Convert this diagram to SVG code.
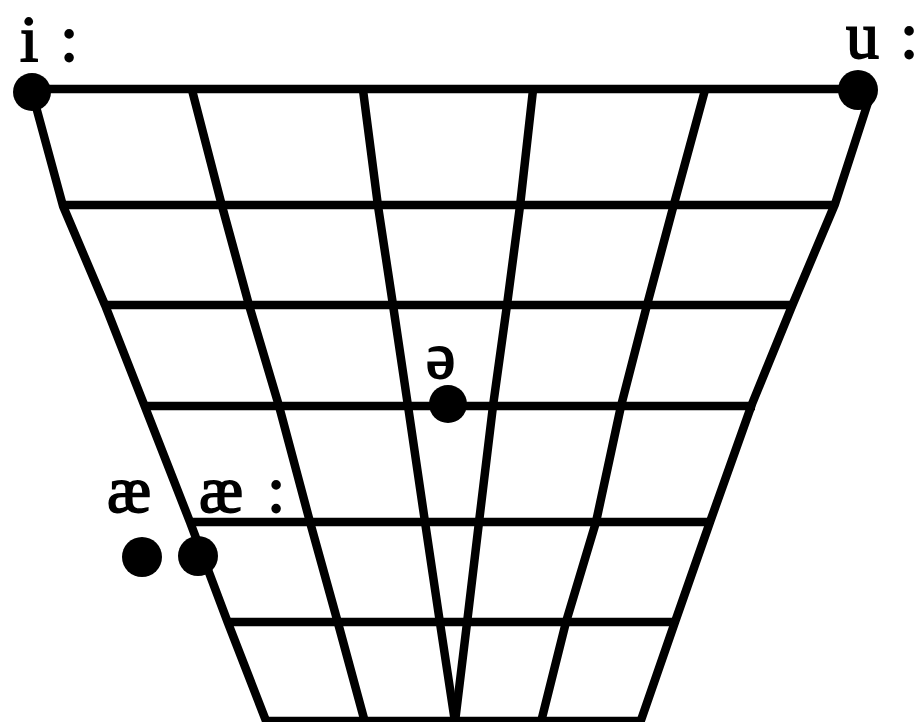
<svg xmlns="http://www.w3.org/2000/svg" width="917" height="722" viewBox="0 0 917 722">
<style>
.g{stroke:#000;stroke-width:8.5;fill:none;stroke-linejoin:round}
.d{fill:#000}
.t{font-family:"Liberation Serif","Times New Roman",serif;font-size:66px;fill:#000;stroke:#000;stroke-width:1.8}
</style>
<rect width="917" height="722" fill="#fff"/>
<g id="grid" class="g">
<polyline points="32,92 63,206 105,305 145,407 190,522 228,623 268,726"/>
<polyline points="192,90 222,206 249,305 279,406 310,522 338,623 366,726"/>
<polyline points="363,90 378,206 393,305 408,406 425,522 440,623 455,722"/>
<polyline points="533,90 520,206 507,305 493,406 479,522 467,623 455,722"/>
<polyline points="705,90 674,204 647,305 621,406 596,522 566,622 540,726"/>
<polyline points="872,90 835,204 792,306 752,404 710,522 675,622 639,726"/>
<line x1="32" y1="89" x2="858" y2="89"/>
<line x1="63" y1="205" x2="837" y2="205"/>
<line x1="105" y1="305" x2="795" y2="305"/>
<line x1="145" y1="406" x2="755" y2="406"/>
<line x1="190" y1="522" x2="712" y2="522"/>
<line x1="228" y1="622" x2="676" y2="622"/>
<line x1="267" y1="721" x2="640" y2="721"/>
</g>
<g id="vowel-i">
<circle class="d" cx="32" cy="92" r="19"/>
<text class="t" y="61"><tspan x="20">i</tspan><tspan x="60">:</tspan></text>
</g>
<g id="vowel-u">
<circle class="d" cx="858" cy="90" r="20"/>
<text class="t" y="58"><tspan x="846">u</tspan><tspan x="900">:</tspan></text>
</g>
<g id="vowel-schwa">
<circle class="d" cx="448" cy="404" r="19"/>
<text class="t" x="426" y="378">ə</text>
</g>
<g id="vowel-ae">
<circle class="d" cx="142" cy="557" r="20"/>
<text class="t" x="107" y="512">æ</text>
</g>
<g id="vowel-ae-long">
<circle class="d" cx="198" cy="556" r="20"/>
<text class="t" y="512"><tspan x="199">æ</tspan><tspan x="267">:</tspan></text>
</g>
</svg>
